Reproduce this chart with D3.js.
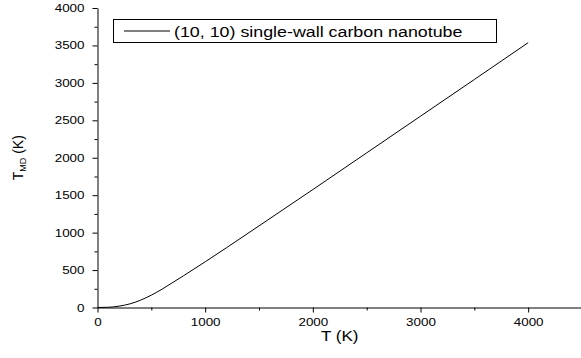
<!DOCTYPE html>
<html>
<head>
<meta charset="utf-8">
<script src="https://cdn.jsdelivr.net/npm/d3@7"></script>
<style>
  html, body { margin: 0; padding: 0; background: #fff; }
  svg { display: block; }
  text { font-family: "Liberation Sans", Arial, sans-serif; fill: #000; }
</style>
</head>
<body>
<svg id="chart" width="581" height="358"></svg>
<script>
// Simulation temperature vs. real temperature for a (10, 10) SWCNT
const tempK = [0, 100, 200, 300, 400, 500, 600, 700, 800, 1000, 1200, 1500, 2000, 2500, 3000, 3500, 4000];
const tempMD = [0, 3, 18, 48, 98, 165, 245, 335, 425, 610, 800, 1090, 1575, 2065, 2555, 3045, 3537];
const xTicks = [0, 1000, 2000, 3000, 4000];
const yTicks = [0, 500, 1000, 1500, 2000, 2500, 3000, 3500, 4000];
const seriesName = "(10, 10) single-wall carbon nanotube";

const points = tempK.map((t, i) => ({ t, md: tempMD[i] }));

const svg = d3.select("#chart");
const sx = 1.22; // horizontal widening of the glyphs
const fmt = d3.format("d");

const x = d3.scaleLinear().domain([0, 4500]).range([97.5, 582]);
const y = d3.scaleLinear().domain([0, 4000]).range([307.5, 8]);

// minor ticks
svg.append("g")
  .attr("transform", `translate(0,${y(0)})`)
  .call(d3.axisBottom(x).tickValues([500, 1500, 2500, 3500, 4500]).tickSize(3).tickFormat(""))
  .call(g => g.select(".domain").remove());
svg.append("g")
  .attr("transform", `translate(${x(0)},0)`)
  .call(d3.axisLeft(y).tickValues(d3.range(250, 4000, 500)).tickSize(3).tickFormat(""))
  .call(g => g.select(".domain").remove());

// x axis
const gx = svg.append("g")
  .attr("transform", `translate(0,${y(0)})`)
  .call(d3.axisBottom(x).tickValues(xTicks).tickFormat(fmt).tickSize(5).tickPadding(6).tickSizeOuter(0));
gx.selectAll("text").attr("font-size", 11).attr("transform", `scale(${sx},1)`);

// y axis
const gy = svg.append("g")
  .attr("transform", `translate(${x(0)},0)`)
  .call(d3.axisLeft(y).tickValues(yTicks).tickFormat(fmt).tickSize(5).tickSizeOuter(0));
gy.selectAll("text").attr("font-size", 11).attr("x", -13 / sx).attr("transform", `scale(${sx},1)`);

svg.selectAll(".domain, .tick line").attr("stroke", "#000").attr("stroke-width", 1);

// axis titles
svg.append("text")
  .attr("transform", `translate(${x(2250)},340.5) scale(${sx},1)`)
  .attr("text-anchor", "middle")
  .attr("font-size", 14)
  .text("T (K)");

const yt = svg.append("text")
  .attr("transform", `translate(23,${(y(0) + y(4000)) / 2}) rotate(-90)`)
  .attr("text-anchor", "middle")
  .attr("font-size", 14);
yt.append("tspan").text("T");
yt.append("tspan").attr("font-size", 9).attr("baseline-shift", "-30%").text("MD");
yt.append("tspan").text(" (K)");

// curve
const line = d3.line()
  .x(d => x(d.t))
  .y(d => y(d.md))
  .curve(d3.curveMonotoneX);

svg.append("path")
  .datum(points)
  .attr("fill", "none")
  .attr("stroke", "#000")
  .attr("stroke-width", 1)
  .attr("d", line);

// legend
const lg = svg.append("g");
lg.append("rect")
  .attr("x", 113.5).attr("y", 19.5)
  .attr("width", 383).attr("height", 23)
  .attr("fill", "#fff").attr("stroke", "#000").attr("stroke-width", 1);
lg.append("line")
  .attr("x1", 124).attr("x2", 170)
  .attr("y1", 31).attr("y2", 31)
  .attr("stroke", "#000").attr("stroke-width", 1);
lg.append("text")
  .attr("transform", `translate(174,36.5) scale(1.19,1)`)
  .attr("font-size", 15)
  .text(seriesName);
</script>
</body>
</html>
